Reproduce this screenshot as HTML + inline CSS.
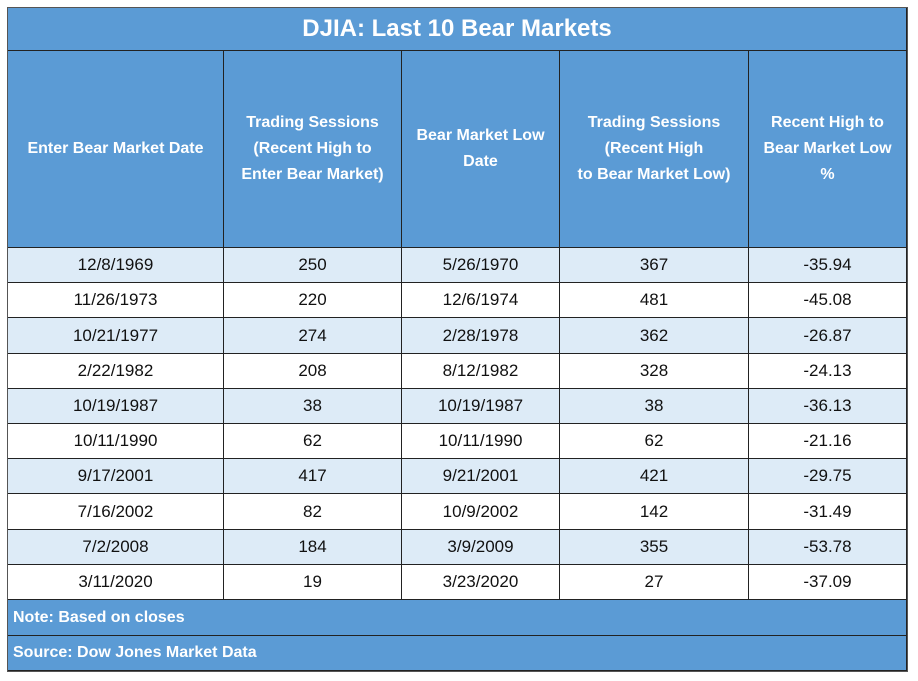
<!DOCTYPE html>
<html><head><meta charset="utf-8"><style>
body{margin:0;width:918px;height:681px;background:#fff;font-family:"Liberation Sans",sans-serif;overflow:hidden;position:relative}
.c{position:absolute;box-sizing:border-box;display:flex;align-items:center;justify-content:center;text-align:center;border-right:1px solid #222;border-bottom:1px solid #222;font-size:17px;color:#111}
.h{background:#5B9BD5;color:#fff;font-weight:bold;font-size:16px;line-height:26px}
.f{background:#5B9BD5;color:#fff;font-weight:bold;font-size:16px;justify-content:flex-start;padding-left:5px}
</style></head><body>
<div id="t" style="position:absolute;left:7px;top:7px;width:901px;height:665px;border:1px solid #555;box-sizing:border-box"></div>
<script>
const startDates=["12/8/1969","11/26/1973","10/21/1977","2/22/1982","10/19/1987","10/11/1990","9/17/2001","7/16/2002","7/2/2008","3/11/2020"];
const sessionsToBear=[250,220,274,208,38,62,417,82,184,19];
const lowDates=["5/26/1970","12/6/1974","2/28/1978","8/12/1982","10/19/1987","10/11/1990","9/21/2001","10/9/2002","3/9/2009","3/23/2020"];
const sessionsToLow=[367,481,362,328,38,62,421,142,355,27];
const pctDecline=["-35.94","-45.08","-26.87","-24.13","-36.13","-21.16","-29.75","-31.49","-53.78","-37.09"];
const headers=["Enter Bear Market Date","Trading Sessions<br>(Recent High to<br>Enter Bear Market)","Bear Market Low<br>Date","Trading Sessions<br>(Recent High<br>to Bear Market Low)","Recent High to<br>Bear Market Low<br>%"];
const xs=[8,224,402,560,749,907];
const t=document.body;
function cell(x,y,w,h,cls,html,name){
 const d=document.createElement('div');
 d.className='c '+cls;
 d.style.left=x+'px';d.style.top=y+'px';d.style.width=w+'px';d.style.height=h+'px';
 d.innerHTML=html;
 
 
 t.appendChild(d);return d;
}
const ti=cell(8,8,899,43,'h','DJIA: Last 10 Bear Markets','table-title');
ti.style.fontSize='24px';
for(let i=0;i<5;i++)cell(xs[i],51,xs[i+1]-xs[i],197,'h',headers[i],'column-header');
const rowH=35.2;
for(let r=0;r<10;r++){
 const y=248+r*rowH;
 const vals=[startDates[r],sessionsToBear[r],lowDates[r],sessionsToLow[r],pctDecline[r]];
 for(let i=0;i<5;i++){
  const c=cell(xs[i],Math.round(y),xs[i+1]-xs[i],Math.round(y+rowH)-Math.round(y),'',vals[i],'data-cell');
  c.style.background=r%2==0?'#DDEBF7':'#fff';
 }
}
cell(8,600,899,36,'f','Note: Based on closes','note-row');
cell(8,636,899,35,'f','Source: Dow Jones Market Data','source-row');
</script>
</body></html>
